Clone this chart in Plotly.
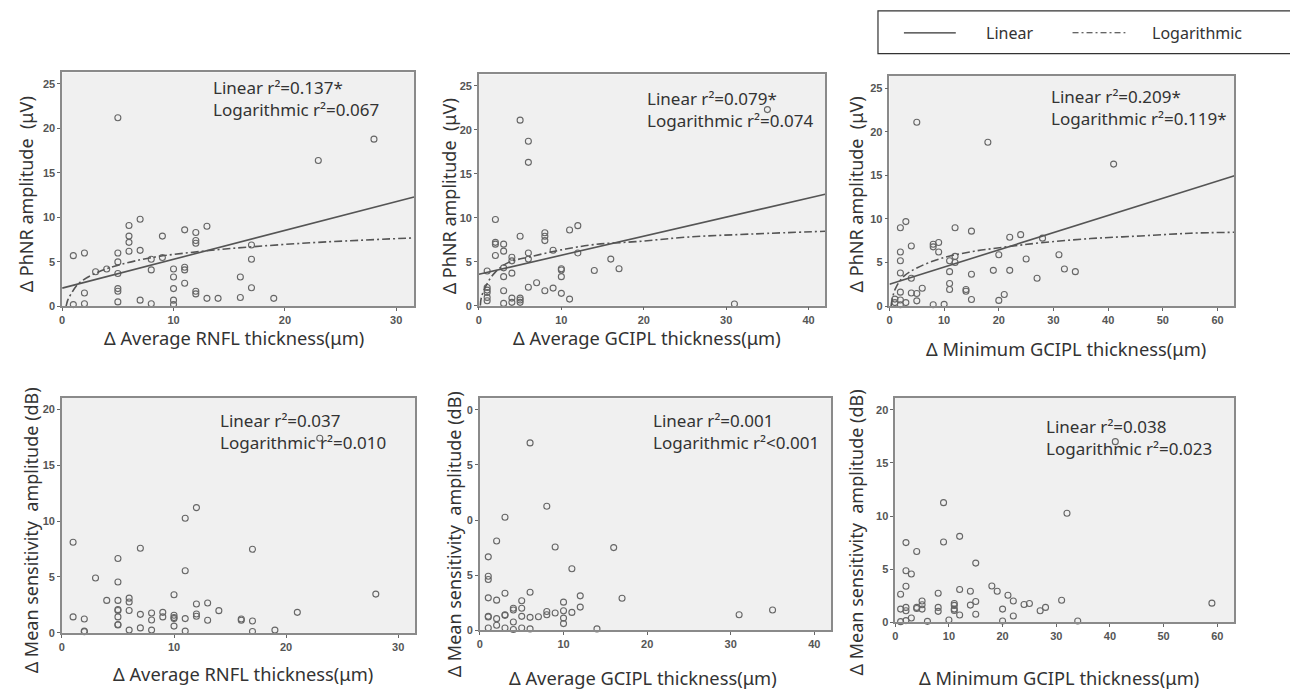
import plotly.graph_objects as go

# ---------------- data ----------------
# Top row: delta PhNR amplitude (uV)
p1_x = [1, 1, 2, 2, 2, 3, 4, 5, 5, 5, 5, 5, 5, 5, 6, 6, 6, 6, 7, 7, 7, 8, 8, 8, 9, 9,
        10, 10, 10, 10, 10, 11, 11, 11, 11, 12, 12, 12, 12, 12, 13, 13, 14, 16, 16,
        17, 17, 17, 19, 23, 28]
p1_y = [0.2, 5.7, 6.0, 1.5, 0.3, 3.9, 4.2, 21.2, 6.0, 5.0, 3.7, 2.0, 1.7, 0.5, 9.1, 7.9,
        7.2, 6.2, 9.8, 6.3, 0.7, 5.3, 4.1, 0.3, 7.9, 5.5, 4.2, 3.3, 2.0, 0.7, 0.2, 8.6,
        4.4, 4.1, 2.6, 8.3, 7.4, 7.1, 1.7, 1.4, 9.0, 0.9, 0.9, 3.3, 1.0, 6.9, 5.3, 2.1,
        0.9, 16.4, 18.8]
p1_lin_x = [0, 31.6]
p1_lin_y = [2.05, 12.3]
p1_log_x = [0.35, 0.5, 0.8, 1.5, 3.3, 5.1, 8.1, 12.6, 17.1, 23, 31.6]
p1_log_y = [0.0, 0.7, 1.4, 2.6, 3.9, 4.65, 5.5, 6.2, 6.7, 7.2, 7.7]

p2_x = [1, 1, 1, 1, 1, 1, 2, 2, 2, 2, 3, 3, 3, 3, 3, 3, 4, 4, 4, 4, 4, 5, 5, 5, 5, 5,
        6, 6, 6, 6, 6, 7, 8, 8, 8, 8, 9, 9, 10, 10, 10, 10, 11, 11, 12, 12, 14, 16, 17,
        31, 35]
p2_y = [3.95, 2.07, 1.77, 1.5, 0.94, 0.56, 9.8, 7.2, 7.0, 5.7, 7.0, 6.2, 4.3, 3.3, 1.7,
        0.26, 5.5, 5.1, 3.7, 0.86, 0.38, 21.1, 7.9, 0.86, 0.64, 0.38, 18.7, 16.3, 6.0,
        5.3, 2.1, 2.6, 8.3, 7.9, 7.4, 1.7, 6.3, 2.0, 4.2, 4.06, 3.3, 1.4, 8.6, 0.75, 9.1,
        6.0, 4.0, 5.3, 4.2, 0.2, 22.3]
p2_lin_x = [0, 42]
p2_lin_y = [3.57, 12.67]
p2_log_x = [0.17, 0.3, 0.93, 1.94, 3.55, 6.4, 10, 14, 19.3, 25.3, 33.4, 42]
p2_log_y = [0.0, 0.94, 2.4, 3.76, 4.9, 5.6, 6.35, 6.95, 7.3, 7.8, 8.16, 8.46]

p3_x = [1, 1, 2, 2, 2, 2, 2, 2, 2, 3, 3, 4, 4, 4, 5, 5, 5, 6, 8, 8, 8, 9, 9, 10, 11, 11,
        11, 11, 12, 12, 12, 14, 14, 15, 15, 15, 18, 19, 20, 20, 21, 22, 22, 24, 25, 27,
        28, 31, 32, 34, 41]
p3_y = [0.8, 0.4, 9.0, 6.2, 5.2, 3.8, 1.6, 0.7, 0.15, 9.7, 0.4, 6.9, 3.2, 1.5, 21.1,
        1.45, 0.6, 2.05, 7.1, 6.8, 0.15, 7.3, 6.2, 0.2, 5.2, 3.95, 2.6, 1.9, 9.0, 5.7,
        5.0, 1.9, 1.7, 8.6, 3.65, 0.76, 18.8, 4.1, 5.9, 0.65, 1.33, 7.9, 4.1, 8.2, 5.4,
        3.2, 7.8, 5.9, 4.25, 3.95, 16.3]
p3_lin_x = [0, 63.1]
p3_lin_y = [2.5, 14.97]
p3_log_x = [0.3, 0.5, 1.16, 2.7, 5.1, 9.4, 15.5, 21.5, 27.6, 36.8, 45.9, 55, 63.1]
p3_log_y = [0.0, 0.8, 2.1, 3.46, 4.4, 5.47, 6.3, 6.8, 7.26, 7.75, 8.05, 8.36, 8.47]

# Bottom row: delta mean sensitivity amplitude (dB)
p4_x = [1, 1, 2, 2, 2, 3, 4, 5, 5, 5, 5, 5, 5, 5, 5, 6, 6, 6, 6, 7, 7, 7, 8, 8, 8, 9, 9,
        10, 10, 10, 10, 10, 11, 11, 11, 11, 12, 12, 12, 12, 13, 13, 14, 16, 16, 17, 17,
        17, 19, 21, 23, 28]
p4_y = [8.1, 1.42, 1.24, 0.15, 0.1, 4.9, 2.9, 6.65, 4.55, 2.9, 2.07, 2.0, 1.42, 0.74,
        0.7, 3.1, 2.75, 2.0, 0.24, 7.56, 1.65, 0.44, 1.77, 1.15, 0.24, 1.83, 1.42, 3.4,
        1.57, 1.36, 1.27, 0.6, 10.25, 5.55, 1.27, 0.15, 11.2, 2.57, 1.68, 1.48, 2.66,
        1.12, 1.98, 1.24, 1.12, 7.47, 1.06, 0.12, 0.24, 1.83, 17.4, 3.46]

p5_x = [1, 1, 1, 1, 1, 1, 1, 2, 2, 2, 2, 3, 3, 3, 3, 3, 4, 4, 4, 4, 5, 5, 5, 5, 6, 6, 6,
        6, 7, 8, 8, 8, 9, 9, 10, 10, 10, 10, 11, 11, 12, 12, 14, 16, 17, 31, 35]
p5_y = [6.66, 4.9, 4.6, 2.94, 1.26, 1.2, 0.2, 8.1, 2.73, 1.05, 0.45, 10.25, 3.36, 1.4,
        1.35, 0.2, 2.0, 1.83, 0.75, 0.06, 2.67, 2.0, 1.26, 0.2, 17.0, 3.45, 1.17, 0.12,
        1.23, 11.25, 1.7, 1.4, 7.55, 1.56, 2.55, 1.77, 1.1, 0.6, 5.58, 1.62, 3.12, 2.1,
        0.12, 7.5, 2.9, 1.4, 1.83]

p6_x = [1, 1, 1, 2, 2, 2, 2, 2, 2, 3, 3, 4, 4, 4, 5, 5, 5, 6, 8, 8, 8, 9, 9, 10, 11, 11,
        11, 11, 12, 12, 12, 14, 14, 15, 15, 15, 18, 19, 20, 20, 21, 22, 22, 24, 25, 27,
        28, 31, 32, 34, 41, 59]
p6_y = [2.64, 1.24, 0.06, 7.5, 4.85, 3.39, 1.4, 1.09, 0.16, 4.54, 0.4, 6.66, 1.4, 1.3,
        2.0, 1.65, 1.24, 0.09, 2.74, 1.4, 1.03, 11.26, 7.56, 0.22, 1.77, 1.59, 1.24, 1.12,
        8.09, 3.08, 0.68, 2.92, 1.62, 5.57, 1.96, 0.75, 3.42, 2.92, 1.24, 0.12, 2.55, 2.0,
        0.59, 1.68, 1.77, 1.09, 1.4, 2.08, 10.26, 0.12, 17.0, 1.8]

top_yticks = [0, 5, 10, 15, 20, 25]
bottom_yticks = [0, 5, 10, 15, 20]
xticks_30 = [0, 10, 20, 30]
xticks_40 = [0, 10, 20, 30, 40]
xticks_60 = [0, 10, 20, 30, 40, 50, 60]

stats = [
    ("Linear r²=0.137*", "Logarithmic r²=0.067"),
    ("Linear r²=0.079*", "Logarithmic r²=0.074"),
    ("Linear r²=0.209*", "Logarithmic r²=0.119*"),
    ("Linear r²=0.037", "Logarithmic r²=0.010"),
    ("Linear r²=0.001", "Logarithmic r²<0.001"),
    ("Linear r²=0.038", "Logarithmic r²=0.023"),
]
x_titles = ["Δ Average RNFL thickness(μm)", "Δ Average GCIPL thickness(μm)",
            "Δ Minimum GCIPL thickness(μm)"] * 2
y_titles = ["Δ PhNR amplitude  (μV)"] * 3 + ["Δ Mean sensitivity  amplitude (dB)"] * 3

# ---------------- layout geometry (page pixels) ----------------
OFF = 8                      # default page margin around the plot div
W, H = 1290, 688
def fx(p):
    return (p - OFF) / W
def fy(p):
    return 1 - (p - OFF) / H

panels = [
    dict(x=p1_x, y=p1_y, lin=(p1_lin_x, p1_lin_y), log=(p1_log_x, p1_log_y),
         xd=(59.3, 412), yd=(73, 309), xr=31.6, yr=26.3, xt=xticks_30, yt=top_yticks,
         txt=(212, 87), xtp=(232, 340), ytp=(23, 196)),
    dict(x=p2_x, y=p2_y, lin=(p2_lin_x, p2_lin_y), log=(p2_log_x, p2_log_y),
         xd=(477, 824), yd=(75, 308.3), xr=42, yr=26.3, xt=xticks_40, yt=top_yticks,
         txt=(647, 98), xtp=(645, 340), ytp=(447, 198)),
    dict(x=p3_x, y=p3_y, lin=(p3_lin_x, p3_lin_y), log=(p3_log_x, p3_log_y),
         xd=(888.5, 1234.3), yd=(76.7, 308.7), xr=63.1, yr=26.4, xt=xticks_60, yt=top_yticks,
         txt=(1052, 96), xtp=(1065, 351), ytp=(855, 196)),
    dict(x=p4_x, y=p4_y, lin=None, log=None,
         xd=(59, 413), yd=(401, 638.3), xr=31.5, yr=21.04, xt=xticks_30, yt=bottom_yticks,
         txt=(219, 423), xtp=(241, 679), ytp=(28, 535)),
    dict(x=p5_x, y=p5_y, lin=None, log=None,
         xd=(478, 830), yd=(401.7, 635.7), xr=42, yr=21.05, xt=xticks_40, yt=bottom_yticks,
         txt=(653, 423), xtp=(641, 683), ytp=(452, 539)),
    dict(x=p6_x, y=p6_y, lin=None, log=None,
         xd=(894.3, 1234.3), yd=(401, 627.7), xr=63.2, yr=21.15, xt=xticks_60, yt=bottom_yticks,
         txt=(1047, 429), xtp=(1058, 683), ytp=(855, 537)),
]

TXT = "#333333"
FONT = "Noto Sans, Open Sans, sans-serif"
TICKFONT = dict(family="Liberation Sans, Arial, sans-serif", size=11, color="#555555", weight="bold")
LINE_C = "#555555"
FRAME_C = "#8a8a8a"

fig = go.Figure()
annotations = []
shapes = []

for i, p in enumerate(panels, start=1):
    xa = "x" if i == 1 else f"x{i}"
    ya = "y" if i == 1 else f"y{i}"
    fig.add_trace(go.Scatter(
        x=p["x"], y=p["y"], mode="markers", xaxis=xa, yaxis=ya, showlegend=False,
        cliponaxis=False,
        marker=dict(symbol="circle-open", size=6, color="#666666", line=dict(width=1.1)),
    ))
    if p["lin"] is not None:
        fig.add_trace(go.Scatter(
            x=p["lin"][0], y=p["lin"][1], mode="lines", xaxis=xa, yaxis=ya,
            showlegend=False, line=dict(color=LINE_C, width=1.6),
        ))
        fig.add_trace(go.Scatter(
            x=p["log"][0], y=p["log"][1], mode="lines", xaxis=xa, yaxis=ya,
            showlegend=False, line=dict(color=LINE_C, width=1.6, dash="8px,3px,2px,3px",
                                        shape="spline"),
        ))
    axcommon = dict(showline=True, linecolor=FRAME_C, linewidth=1.5, mirror=True,
                    showgrid=False, zeroline=False, ticks="outside", ticklen=3,
                    tickcolor="#666666", tickwidth=1, tickfont=TICKFONT, fixedrange=True)
    xkey = "xaxis" if i == 1 else f"xaxis{i}"
    ykey = "yaxis" if i == 1 else f"yaxis{i}"
    fig.layout[xkey] = dict(domain=[fx(p["xd"][0]), fx(p["xd"][1])], range=[0, p["xr"]],
                            tickvals=p["xt"], anchor=ya, **axcommon)
    fig.layout[ykey] = dict(domain=[fy(p["yd"][1]), fy(p["yd"][0])], range=[0, p["yr"]],
                            tickvals=p["yt"], anchor=xa, **axcommon)

    s1, s2 = stats[i - 1]
    tx, ty = p["txt"]
    annotations.append(dict(x=fx(tx - 4), y=fy(ty - 12), xref="paper", yref="paper",
                            xanchor="left", yanchor="top", align="left",
                            text=s1 + "<br>" + s2, showarrow=False,
                            font=dict(family=FONT, size=17, color=TXT)))
    annotations.append(dict(x=fx(p["xtp"][0]), y=fy(p["xtp"][1]), xref="paper", yref="paper",
                            xanchor="center", yanchor="middle", text=x_titles[i - 1],
                            showarrow=False, font=dict(family=FONT, size=18.3, color=TXT)))
    annotations.append(dict(x=fx(p["ytp"][0]), y=fy(p["ytp"][1]), xref="paper", yref="paper",
                            xanchor="center", yanchor="middle", text=y_titles[i - 1],
                            textangle=-90, showarrow=False,
                            bgcolor="white" if i == 5 else "rgba(0,0,0,0)",
                            font=dict(family=FONT, size=18, color=TXT)))

# legend box
shapes.append(dict(type="rect", xref="paper", yref="paper", x0=fx(877), x1=fx(1293),
                   y0=fy(54), y1=fy(11), line=dict(color="#333333", width=1.2)))
shapes.append(dict(type="line", xref="paper", yref="paper", x0=fx(903), x1=fx(955),
                   y0=fy(33), y1=fy(33), line=dict(color="#333333", width=1.3)))
shapes.append(dict(type="line", xref="paper", yref="paper", x0=fx(1072), x1=fx(1125),
                   y0=fy(33), y1=fy(33), line=dict(color="#333333", width=1.1,
                                                  dash="6px,3px,2px,3px")))
annotations.append(dict(x=fx(983), y=fy(33), xref="paper", yref="paper", xanchor="left",
                        yanchor="middle", text="Linear", showarrow=False,
                        font=dict(family=FONT, size=16, color=TXT)))
annotations.append(dict(x=fx(1150), y=fy(33), xref="paper", yref="paper", xanchor="left",
                        yanchor="middle", text="Logarithmic", showarrow=False,
                        font=dict(family=FONT, size=16, color=TXT)))

fig.update_layout(
    width=W, height=H, margin=dict(l=0, r=0, t=0, b=0),
    paper_bgcolor="white", plot_bgcolor="#f0f0f0",
    annotations=annotations, shapes=shapes, showlegend=False,
)

fig.write_html("out.html", config={"displayModeBar": False})
